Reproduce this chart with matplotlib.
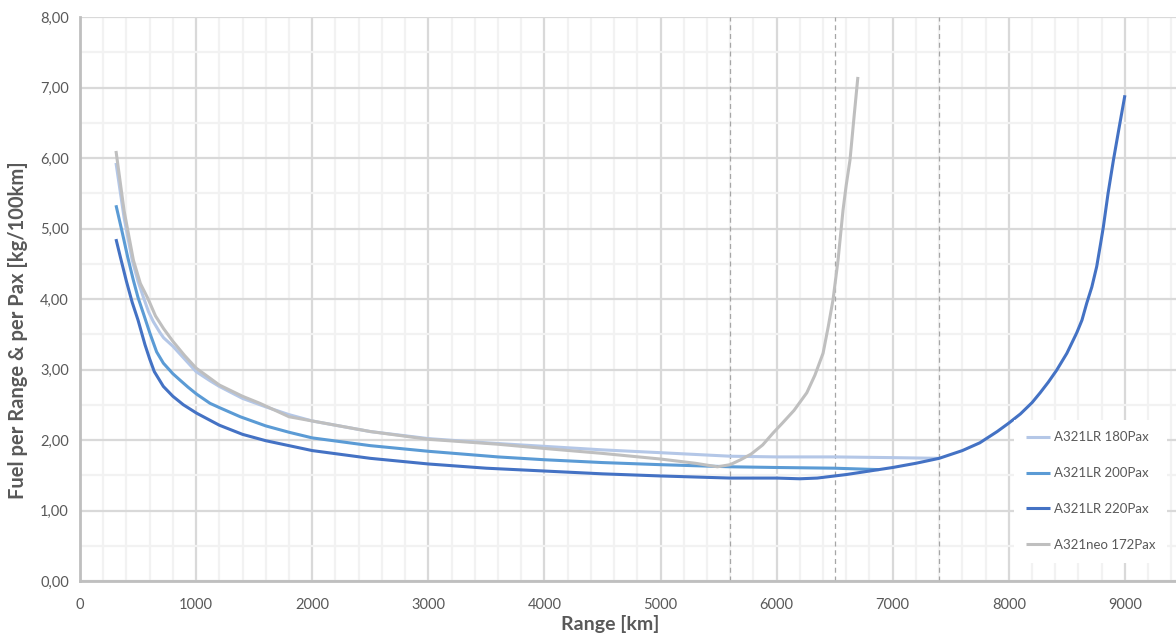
import matplotlib
matplotlib.use('Agg')

import matplotlib.pyplot as plt
from matplotlib.ticker import MultipleLocator, FuncFormatter

plt.rcParams['font.family'] = ['Lato', 'DejaVu Sans']

# A321LR 180Pax
r180 = [310, 380, 450, 500, 545, 590, 631, 690, 720, 800, 900, 1000, 1120, 1200, 1400, 1600, 1800, 2000, 2500, 3000,
        3500, 4000, 4500, 5000, 5600, 6000, 6500, 7000, 7400]
f180 = [5.93, 5.15, 4.55, 4.25, 4.03, 3.82, 3.68, 3.52, 3.45, 3.33, 3.15, 2.97, 2.84, 2.76, 2.59, 2.47, 2.36, 2.27, 2.12, 2.02,
        1.96, 1.91, 1.86, 1.82, 1.77, 1.76, 1.76, 1.75, 1.74]

# A321LR 200Pax
r200 = [310, 359, 410, 459, 500, 545, 603, 660, 718, 800, 861, 930, 1005, 1120, 1200, 1380, 1600, 1800, 2000, 2500,
        3000, 3600, 4000, 4500, 5000, 5600, 6000, 6500, 6880]
f200 = [5.33, 4.98, 4.60, 4.27, 4.02, 3.80, 3.51, 3.25, 3.09, 2.94, 2.85, 2.75, 2.65, 2.52, 2.46, 2.33, 2.20, 2.11, 2.03, 1.92,
        1.84, 1.76, 1.72, 1.68, 1.65, 1.62, 1.61, 1.60, 1.58]

# A321LR 220Pax
r220 = [310, 350, 400, 450, 500, 560, 600, 640, 718, 800, 890, 1005, 1200, 1400, 1600, 1800, 2000, 2500,
        3000, 3500, 4000, 4500, 5000, 5600, 6000, 6200, 6350, 6600, 6800, 7000, 7200, 7400, 7600, 7750, 7900, 8000,
        8100, 8200, 8270, 8340, 8412, 8500, 8585, 8630, 8671, 8715, 8757, 8790, 8814, 8855, 8901, 8950, 9000]
f220 = [4.85, 4.58, 4.25, 3.95, 3.70, 3.35, 3.15, 2.97, 2.76, 2.62, 2.50, 2.38, 2.21, 2.08, 1.99, 1.92, 1.85,
        1.74, 1.66, 1.60, 1.56, 1.52, 1.49, 1.46, 1.46, 1.45, 1.46, 1.51, 1.56, 1.61, 1.67, 1.74, 1.85, 1.96, 2.12, 2.24,
        2.37, 2.53, 2.67, 2.82, 2.99, 3.23, 3.52, 3.70, 3.94, 4.17, 4.46, 4.78, 5.02, 5.50, 5.97, 6.43, 6.89]

# A321neo 172Pax
rneo = [310, 380, 460, 520, 587, 650, 720, 800, 900, 1000, 1200, 1400, 1550, 1800, 2000, 2500, 3000, 3600, 4000, 4500,
        5000, 5300, 5490, 5600, 5690, 5780, 5880, 5970, 6050, 6150, 6260, 6330, 6400, 6445, 6486, 6529, 6572, 6600,
        6632, 6665, 6700]
fneo = [6.10, 5.25, 4.55, 4.22, 4.00, 3.76, 3.58, 3.40, 3.20, 3.02, 2.78, 2.62, 2.52, 2.33, 2.27, 2.12, 2.01, 1.94, 1.88, 1.81,
        1.73, 1.67, 1.62, 1.65, 1.72, 1.80, 1.93, 2.10, 2.24, 2.42, 2.67, 2.92, 3.23, 3.61, 3.99, 4.55, 5.26, 5.62,
        5.97, 6.55, 7.15]

ref_ranges = [5600, 6500, 7400]

txt = '#595959'

fig = plt.figure(figsize=(11.76, 6.36), dpi=100)
ax = fig.add_axes([80 / 1176, 1 - 581 / 636, 1 - 80 / 1176, 564 / 636])

ax.set_xlim(0, 9440)
ax.set_ylim(0, 8)
ax.xaxis.set_major_locator(MultipleLocator(1000))
ax.xaxis.set_minor_locator(MultipleLocator(200))
ax.yaxis.set_major_locator(MultipleLocator(1))
ax.yaxis.set_minor_locator(MultipleLocator(0.5))
ax.yaxis.set_major_formatter(FuncFormatter(lambda v, p: f'{v:.2f}'.replace('.', ',')))

ax.grid(which='major', color='#D9D9D9', lw=1.6, zorder=0)
ax.grid(which='minor', color='#F2F2F2', lw=1.6, zorder=0)
ax.set_axisbelow(True)

for s in ['right', 'top']:
    ax.spines[s].set_visible(False)
for s in ['left', 'bottom']:
    ax.spines[s].set_color('#BFBFBF')
    ax.spines[s].set_linewidth(2)

ax.tick_params(which='both', length=0, labelsize=10.5, labelcolor=txt)
ax.tick_params(axis='x', pad=12)
ax.tick_params(axis='y', pad=8)

for r in ref_ranges:
    ax.axvline(r, color='#A6A6A6', ls=(0, (4, 3)), lw=0.9, zorder=1)

style = dict(lw=2.2, solid_joinstyle='round', solid_capstyle='butt')
ax.plot(r180, f180, color='#B4C7E7', label='A321LR 180Pax', zorder=3, **style)
ax.plot(r200, f200, color='#5B9BD5', label='A321LR 200Pax', zorder=4, **style)
ax.plot(r220, f220, color='#4472C4', label='A321LR 220Pax', zorder=5, **style)
ax.plot(rneo, fneo, color='#BFBFBF', label='A321neo 172Pax', zorder=4, **style)

ax.set_xlabel('Range [km]', fontsize=14, fontweight='bold', color=txt)
ax.set_ylabel('Fuel per Range & per Pax [kg/100km]', fontsize=14.5, fontweight='bold', color=txt)
ax.xaxis.set_label_coords((610 - 80) / 1096, -0.06)
ax.yaxis.set_label_coords(-0.047, (581 - 330) / 564)

leg = ax.legend(loc='lower right', bbox_to_anchor=(0.998, 0.021), fontsize=9.5, frameon=True,
                fancybox=False, edgecolor='none', facecolor='white', framealpha=1,
                handlelength=1.8, labelspacing=1.8, borderpad=0.9, handletextpad=0.3)
for t in leg.get_texts():
    t.set_color(txt)

plt.savefig('out.png', dpi=100)
